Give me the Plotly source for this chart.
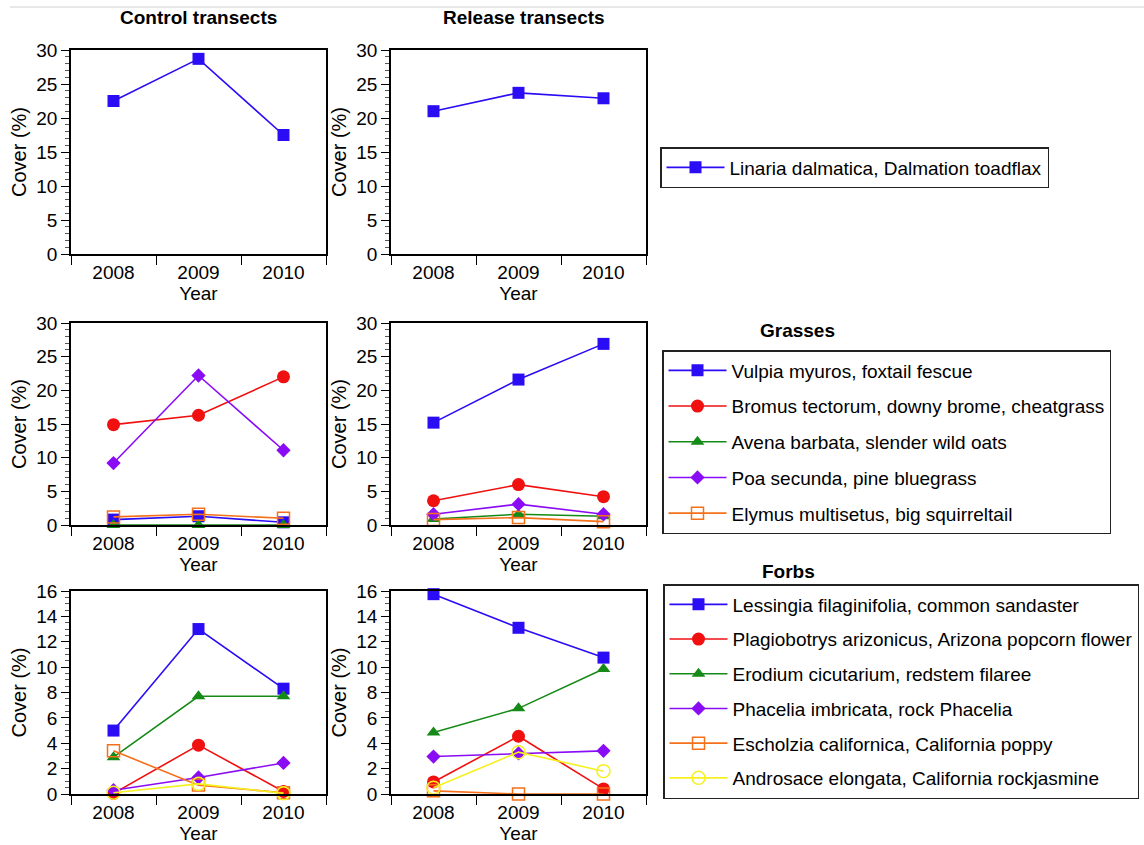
import plotly.graph_objects as go

years = [2008, 2009, 2010]

# Linaria dalmatica cover (%)
toadflax_control = [22.5, 28.7, 17.5]
toadflax_release = [21.0, 23.7, 22.9]

# Grasses cover (%)
vulpia_control = [0.8, 1.3, 0.4]
vulpia_release = [15.2, 21.6, 26.9]
bromus_control = [14.9, 16.3, 22.0]
bromus_release = [3.6, 6.0, 4.2]
avena_control = [0.0, 0.0, 0.0]
avena_release = [0.9, 1.6, 1.3]
poa_control = [9.2, 22.2, 11.1]
poa_release = [1.6, 3.1, 1.6]
elymus_control = [1.2, 1.6, 1.0]
elymus_release = [0.8, 1.1, 0.5]

# Forbs cover (%)
lessingia_control = [5.0, 13.0, 8.3]
lessingia_release = [15.75, 13.1, 10.75]
plagio_control = [0.05, 3.85, 0.2]
plagio_release = [0.95, 4.55, 0.4]
erodium_control = [2.9, 7.7, 7.7]
erodium_release = [4.85, 6.75, 9.85]
phacelia_control = [0.3, 1.3, 2.45]
phacelia_release = [2.95, 3.2, 3.4]
escholzia_control = [3.4, 0.7, 0.1]
escholzia_release = [0.25, 0.0, 0.0]
androsace_control = [0.1, 0.8, 0.05]
androsace_release = [0.5, 3.3, 1.8]

BLUE = "#2a0cf5"
RED = "#f01010"
GREEN = "#168a16"
PURPLE = "#8a0cf5"
ORANGE = "#f5701a"
YELLOW = "#f5f020"

styles = {
    "square": dict(symbol="square", size=12),
    "circle": dict(symbol="circle", size=13),
    "triangle": dict(symbol="triangle-up", size=12),
    "diamond": dict(symbol="diamond", size=11),
    "open_square": dict(symbol="square-open", size=12),
    "open_circle": dict(symbol="circle-open", size=13),
}

W, H = 1144, 845
FONT = "Liberation Sans, Arial, Helvetica, sans-serif"

fig = go.Figure()

# panel geometry in pixels: (x0, x1) columns, (top, bottom) rows
cols = [(71, 326), (391, 646)]
rows = [(50, 254), (323, 525), (591, 794)]


def xdom(c):
    return [c[0] / W, c[1] / W]


def ydom(r):
    return [(H - r[1]) / H, (H - r[0]) / H]


panels = []  # (axis index, col, row, ymax, major, minor)
idx = 1
for ri, (ymax, major, minor) in enumerate([(30, 5, 1), (30, 5, 1), (16, 2, 0.5)]):
    for ci in range(2):
        panels.append((idx, cols[ci], rows[ri], ymax, major, minor))
        idx += 1

for (i, c, r, ymax, major, minor) in panels:
    xa = "xaxis" if i == 1 else f"xaxis{i}"
    ya = "yaxis" if i == 1 else f"yaxis{i}"
    fig.layout[xa] = dict(
        domain=xdom(c), anchor=f"y{i if i > 1 else ''}",
        range=[2007.5, 2010.5], tickvals=years, ticktext=[str(y) for y in years],
        ticks="", showline=True, mirror=True, linecolor="black", linewidth=1.5,
        showgrid=False, zeroline=False, fixedrange=True,
        tickfont=dict(size=19, color="black", family=FONT),
        title=dict(text="Year", font=dict(size=19, color="black", family=FONT), standoff=0),
        minor=dict(tickvals=[2007.5, 2008.5, 2009.5, 2010.5], ticks="outside",
                   ticklen=9, tickwidth=1.2, tickcolor="black"),
        automargin=False,
    )
    fig.layout[ya] = dict(
        domain=ydom(r), anchor=f"x{i if i > 1 else ''}",
        range=[0, ymax], dtick=major, tick0=0,
        ticks="outside", ticklen=8, tickwidth=1.2, tickcolor="black",
        showline=True, mirror=True, linecolor="black", linewidth=1.5,
        showgrid=False, zeroline=False, fixedrange=True,
        tickfont=dict(size=19, color="black", family=FONT),
        title=dict(text="Cover (%)", font=dict(size=20, color="black", family=FONT), standoff=4),
        minor=dict(dtick=minor, tick0=0, ticks="outside", ticklen=4,
                   tickwidth=1, tickcolor="#555"),
        automargin=False,
    )


def add(y, name, color, style, axis, legend, show):
    m = dict(styles[style])
    m["color"] = color
    if "open" in style:
        m["line"] = dict(color=color, width=1.5)
    xs = "x" if axis == 1 else f"x{axis}"
    ys = "y" if axis == 1 else f"y{axis}"
    fig.add_trace(go.Scatter(
        x=years, y=y, name=name, mode="lines+markers",
        line=dict(color=color, width=1.6), marker=m,
        xaxis=xs, yaxis=ys, legend=legend, legendgroup=name, showlegend=show,
        cliponaxis=False,
    ))


# top row: toadflax
add(toadflax_control, "Linaria dalmatica, Dalmation toadflax", BLUE, "square", 1, "legend", False)
add(toadflax_release, "Linaria dalmatica, Dalmation toadflax", BLUE, "square", 2, "legend", True)

grasses = [
    ("Vulpia myuros, foxtail fescue", BLUE, "square", vulpia_control, vulpia_release),
    ("Bromus tectorum, downy brome, cheatgrass", RED, "circle", bromus_control, bromus_release),
    ("Avena barbata, slender wild oats", GREEN, "triangle", avena_control, avena_release),
    ("Poa secunda, pine bluegrass", PURPLE, "diamond", poa_control, poa_release),
    ("Elymus multisetus, big squirreltail", ORANGE, "open_square", elymus_control, elymus_release),
]
for name, color, st, ctl, rel in grasses:
    add(ctl, name, color, st, 3, "legend2", False)
    add(rel, name, color, st, 4, "legend2", True)

forbs = [
    ("Lessingia filaginifolia, common sandaster", BLUE, "square", lessingia_control, lessingia_release),
    ("Plagiobotrys arizonicus, Arizona popcorn flower", RED, "circle", plagio_control, plagio_release),
    ("Erodium cicutarium, redstem filaree", GREEN, "triangle", erodium_control, erodium_release),
    ("Phacelia imbricata, rock Phacelia", PURPLE, "diamond", phacelia_control, phacelia_release),
    ("Escholzia californica, California poppy", ORANGE, "open_square", escholzia_control, escholzia_release),
    ("Androsace elongata, California rockjasmine", YELLOW, "open_circle", androsace_control, androsace_release),
]
for name, color, st, ctl, rel in forbs:
    add(ctl, name, color, st, 5, "legend3", False)
    add(rel, name, color, st, 6, "legend3", True)

legend_common = dict(
    bgcolor="white", bordercolor="#222", borderwidth=1.5,
    font=dict(size=19, color="black", family=FONT),
    traceorder="grouped", xanchor="left", yanchor="top", itemwidth=58,
)
fig.update_layout(
    legend=dict(legend_common, x=660 / W, y=(H - 147) / H, tracegroupgap=0),
    legend2=dict(legend_common, x=662 / W, y=(H - 350) / H, tracegroupgap=8),
    legend3=dict(legend_common, x=663 / W, y=(H - 584) / H, tracegroupgap=7),
)

annotations = [
    dict(text="<b>Control transects</b>", x=198 / W, y=(H - 18) / H),
    dict(text="<b>Release transects</b>", x=524 / W, y=(H - 18) / H),
    dict(text="<b>Grasses</b>", x=797 / W, y=(H - 330) / H),
    dict(text="<b>Forbs</b>", x=788 / W, y=(H - 571) / H),
]
for a in annotations:
    fig.add_annotation(
        xref="paper", yref="paper", showarrow=False, xanchor="center", yanchor="middle",
        font=dict(size=19, color="black", family=FONT), **a,
    )

fig.add_shape(type="line", xref="paper", yref="paper",
              x0=10 / W, x1=1.0, y0=(H - 7) / H, y1=(H - 7) / H,
              line=dict(color="#d0d0d0", width=1))

fig.update_layout(
    width=W, height=H,
    margin=dict(l=0, r=0, t=0, b=0),
    paper_bgcolor="white", plot_bgcolor="white",
    font=dict(family=FONT, color="black"),
)

fig.write_html("out.html")
